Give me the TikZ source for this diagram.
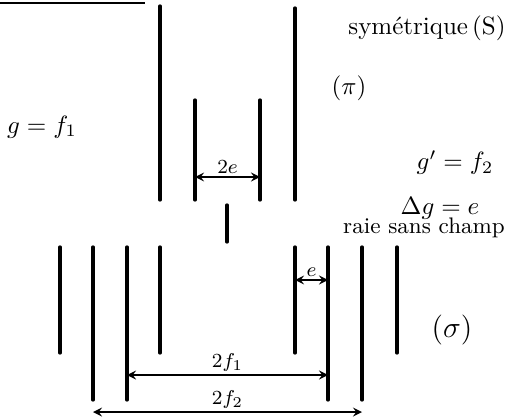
\documentclass[tikz,border=0pt]{standalone}
\usepackage{tikz}
\usetikzlibrary{arrows,positioning}
\usepackage{amsmath}

\begin{document}
\begin{tikzpicture}[
    x=0.4pt, y=-0.4pt,
    raie/.style={line width=1.3pt, line cap=round},
    cote/.style={<->, >=stealth, line width=0.6pt},
    lab/.style={font=\normalsize},
    small/.style={font=\footnotesize, inner sep=1pt}
]
\useasboundingbox (0,0) rectangle (520,419);

% Title underline (cut off)
\draw[line width=1pt] (0,3) -- (145,3);

% Pi component lines
\draw[raie] (160,6) -- (160,200);
\draw[raie] (195,100) -- (195,200);
\draw[raie] (260,100) -- (260,200);
\draw[raie] (295,8) -- (295,200);

% Line without field
\draw[raie] (227,205) -- (227,242);

% Sigma component lines
\draw[raie] (60,247) -- (60,353);
\draw[raie] (93,247) -- (93,400);
\draw[raie] (127,247) -- (127,400);
\draw[raie] (160,247) -- (160,353);
\draw[raie] (295,247) -- (295,353);
\draw[raie] (328,247) -- (328,400);
\draw[raie] (362,247) -- (362,400);
\draw[raie] (397,247) -- (397,353);

% Dimension points
\coordinate (ea) at (195,177);
\coordinate (eb) at (260,177);
\coordinate (sa) at (295,280);
\coordinate (sb) at (328,280);
\coordinate (fa) at (127,375);
\coordinate (fb) at (328,375);
\coordinate (ga) at (93,412);
\coordinate (gb) at (362,412);

% Dimensions
\draw[cote] (ea) -- node[above, small] {$2e$} (eb);
\draw[cote] (sa) -- node[above, small] {$e$} (sb);
\draw[cote] (fa) -- node[above, small] {$2f_1$} (fb);
\draw[cote] (ga) -- node[above, small] {$2f_2$} (gb);

% Labels
\node[lab] (gf) at (42,127) {$g = f_1$};
\node[lab] (sym) at (427,28) {symétrique\,(S)};
\node[lab] (pi) at (349,88) {$(\pi)$};
\node[lab] (gpf) at (455,163) {$g' = f_2$};
\node[lab] (dg) at (440,208) {$\Delta g = e$};
\node[font=\small] (rsc) at (424,228) {raie sans champ};
\node[lab, font=\large] (sigma) at (452,330) {$(\sigma)$};

\end{tikzpicture}
\end{document}
